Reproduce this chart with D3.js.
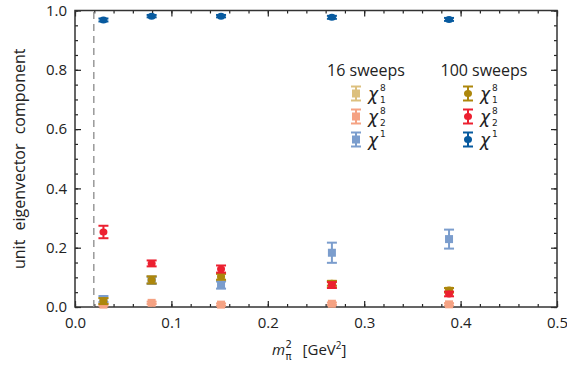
<!DOCTYPE html>
<html>
<head>
<meta charset="utf-8">
<script src="https://cdn.jsdelivr.net/npm/d3@7"></script>
<style>
  body { margin: 0; background: #fff; }
  text { font-family: "Open Sans", "Noto Sans", sans-serif; fill: #222; }
  .leg-sym { font-family: "DejaVu Sans", sans-serif; }
</style>
</head>
<body>
<div id="chart"></div>
<script>
// pion mass squared for each ensemble
var mpi2 = [0.0295, 0.0795, 0.1515, 0.2665, 0.388];
var physPoint = 0.0195;

// 16 sweeps
var chi81_16 = [0.02, 0.092, 0.10, 0.078, 0.055];
var chi81_16_err = [0.01, 0.012, 0.012, 0.01, 0.008];
var chi82_16 = [0.008, 0.014, 0.008, 0.011, 0.009];
var chi82_16_err = [0.004, 0.004, 0.004, 0.004, 0.004];
var chi1_16 = [0.027, 0.09, 0.074, 0.183, 0.229];
var chi1_16_err = [0.01, 0.012, 0.012, 0.034, 0.032];

// 100 sweeps
var chi81_100 = [0.02, 0.091, 0.102, 0.08, 0.057];
var chi81_100_err = [0.01, 0.012, 0.01, 0.008, 0.007];
var chi82_100 = [0.253, 0.147, 0.128, 0.074, 0.044];
var chi82_100_err = [0.021, 0.01, 0.012, 0.01, 0.008];
var chi1_100 = [0.968, 0.981, 0.981, 0.977, 0.970];
var chi1_100_err = [0.005, 0.004, 0.004, 0.005, 0.005];

var xTicks = [0, 0.1, 0.2, 0.3, 0.4, 0.5];
var yTicks = [0, 0.2, 0.4, 0.6, 0.8, 1.0];

var series = [
  {y: chi81_16, e: chi81_16_err, color: '#dcc07e', shape: 'square', col: 0, row: 0},
  {y: chi82_16, e: chi82_16_err, color: '#f5a283', shape: 'square', col: 0, row: 1},
  {y: chi1_16, e: chi1_16_err, color: '#7b9dcd', shape: 'square', col: 0, row: 2},
  {y: chi81_100, e: chi81_100_err, color: '#ad870c', shape: 'circle', col: 1, row: 0},
  {y: chi82_100, e: chi82_100_err, color: '#ec2030', shape: 'circle', col: 1, row: 1},
  {y: chi1_100, e: chi1_100_err, color: '#075a9f', shape: 'circle', col: 1, row: 2}
];

var svgWidth = 567, svgHeight = 373;
var margin = {top: 10.5, right: 10, bottom: 66, left: 75};
var width = svgWidth - margin.left - margin.right;
var height = svgHeight - margin.top - margin.bottom;

var svg = d3.select('#chart').append('svg')
  .attr('width', svgWidth)
  .attr('height', svgHeight);

var g = svg.append('g')
  .attr('transform', `translate(${margin.left}, ${margin.top})`);

var x = d3.scaleLinear().domain([0, 0.5]).range([0, width]);
var y = d3.scaleLinear().domain([0, 1]).range([height, 0]);

// frame with inward ticks on all four sides
function styleAxis(sel, showLabels) {
  sel.select('.domain').remove();
  sel.selectAll('line').attr('stroke', '#222').attr('stroke-width', 1.2);
  sel.selectAll('text').style('font-size', '15px').style('fill', '#222');
  if (!showLabels) sel.selectAll('text').remove();
}

var xMinor = d3.range(0, 0.5001, 0.02);
var yMinor = d3.range(0, 1.0001, 0.05);

g.append('g').attr('transform', `translate(0, ${height})`)
  .call(d3.axisBottom(x).tickValues(xMinor).tickSize(-3).tickFormat(''))
  .call(s => styleAxis(s, false));
g.append('g').attr('transform', `translate(0, ${height})`)
  .call(d3.axisBottom(x).tickValues(xTicks).tickSize(-6).tickPadding(10).tickFormat(d3.format('.1f')))
  .call(s => styleAxis(s, true));
g.append('g')
  .call(d3.axisTop(x).tickValues(xMinor).tickSize(-3).tickFormat(''))
  .call(s => styleAxis(s, false));
g.append('g')
  .call(d3.axisTop(x).tickValues(xTicks).tickSize(-6).tickFormat(''))
  .call(s => styleAxis(s, false));

g.append('g')
  .call(d3.axisLeft(y).tickValues(yMinor).tickSize(-3).tickFormat(''))
  .call(s => styleAxis(s, false));
g.append('g')
  .call(d3.axisLeft(y).tickValues(yTicks).tickSize(-6).tickPadding(8).tickFormat(d3.format('.1f')))
  .call(s => styleAxis(s, true));
g.append('g').attr('transform', `translate(${width}, 0)`)
  .call(d3.axisRight(y).tickValues(yMinor).tickSize(-3).tickFormat(''))
  .call(s => styleAxis(s, false));
g.append('g').attr('transform', `translate(${width}, 0)`)
  .call(d3.axisRight(y).tickValues(yTicks).tickSize(-6).tickFormat(''))
  .call(s => styleAxis(s, false));

g.append('rect')
  .attr('width', width).attr('height', height)
  .attr('fill', 'none').attr('stroke', '#333').attr('stroke-width', 1.5);

// physical pion mass
g.append('line')
  .attr('x1', x(physPoint)).attr('x2', x(physPoint))
  .attr('y1', y(0)).attr('y2', y(1))
  .attr('stroke', '#999').attr('stroke-width', 1.5)
  .attr('stroke-dasharray', '7,5');

function drawMarker(sel, cx, cy, ytop, ybot, s) {
  var cap = 5;
  sel.append('line').attr('x1', cx).attr('x2', cx).attr('y1', ytop).attr('y2', ybot)
    .attr('stroke', s.color).attr('stroke-width', 2);
  [ytop, ybot].forEach(function(v) {
    sel.append('line').attr('x1', cx - cap).attr('x2', cx + cap).attr('y1', v).attr('y2', v)
      .attr('stroke', s.color).attr('stroke-width', 2);
  });
  if (s.shape === 'square') {
    sel.append('rect').attr('x', cx - 4).attr('y', cy - 4).attr('width', 8).attr('height', 8)
      .attr('fill', s.color);
  } else {
    sel.append('ellipse').attr('cx', cx).attr('cy', cy).attr('rx', 4).attr('ry', 3.5)
      .attr('fill', s.color);
  }
}

var marks = g.append('g');
series.forEach(function(s) {
  s.y.forEach(function(v, i) {
    drawMarker(marks, x(mpi2[i]), y(v), y(v + s.e[i]), y(v - s.e[i]), s);
  });
});

// legend
var legend = g.append('g');
var colX = [281, 393];
var headX = [291, 409];
var headers = ['16 sweeps', '100 sweeps'];
headers.forEach(function(h, i) {
  legend.append('text').attr('x', headX[i]).attr('y', 65)
    .attr('text-anchor', 'middle').style('font-size', '16px').text(h);
});
var sups = ['8', '8', '1'];
var subs = ['1', '2', null];
series.forEach(function(s) {
  var lx = colX[s.col];
  var ly = 83 + s.row * 23;
  var lg = legend.append('g');
  drawMarker(lg, lx, ly, ly - 7, ly + 7, s);
  legend.append('text').attr('class', 'leg-sym').attr('x', lx + 12).attr('y', ly + 6)
    .style('font-size', '17px').style('font-style', 'italic').text('\u03C7');
  legend.append('text').attr('class', 'leg-sym').attr('x', lx + 24).attr('y', ly - 3)
    .style('font-size', '9px').text(sups[s.row]);
  if (subs[s.row]) {
    legend.append('text').attr('class', 'leg-sym').attr('x', lx + 24).attr('y', ly + 9)
      .style('font-size', '9px').text(subs[s.row]);
  }
});

// axis titles
svg.append('text')
  .attr('transform', `translate(25, ${margin.top + height / 2}) rotate(-90)`)
  .attr('text-anchor', 'middle').style('font-size', '16px')
  .style('word-spacing', '5px')
  .text('unit eigenvector component');

// x title: m_pi^2 [GeV^2], pieces placed side by side
var xBase = 355;
var mText = svg.append('text').attr('x', 272).attr('y', xBase)
  .style('font-size', '15px').style('font-style', 'italic').text('m');
var mEnd = 272 + mText.node().getComputedTextLength() + 0.5;
var piText = svg.append('text').attr('class', 'leg-sym').attr('x', mEnd).attr('y', xBase + 5)
  .style('font-size', '10px').text('\u03C0');
svg.append('text').attr('class', 'leg-sym').attr('x', mEnd).attr('y', xBase - 7)
  .style('font-size', '10px').text('2');
var unitX = mEnd + piText.node().getComputedTextLength() + 11;
var ut = svg.append('text').attr('x', unitX).attr('y', xBase).style('font-size', '15px');
ut.append('tspan').text('[GeV');
ut.append('tspan').attr('dy', -6).style('font-size', '10px').text('2');
ut.append('tspan').attr('dy', 6).text(']');
</script>
</body>
</html>
